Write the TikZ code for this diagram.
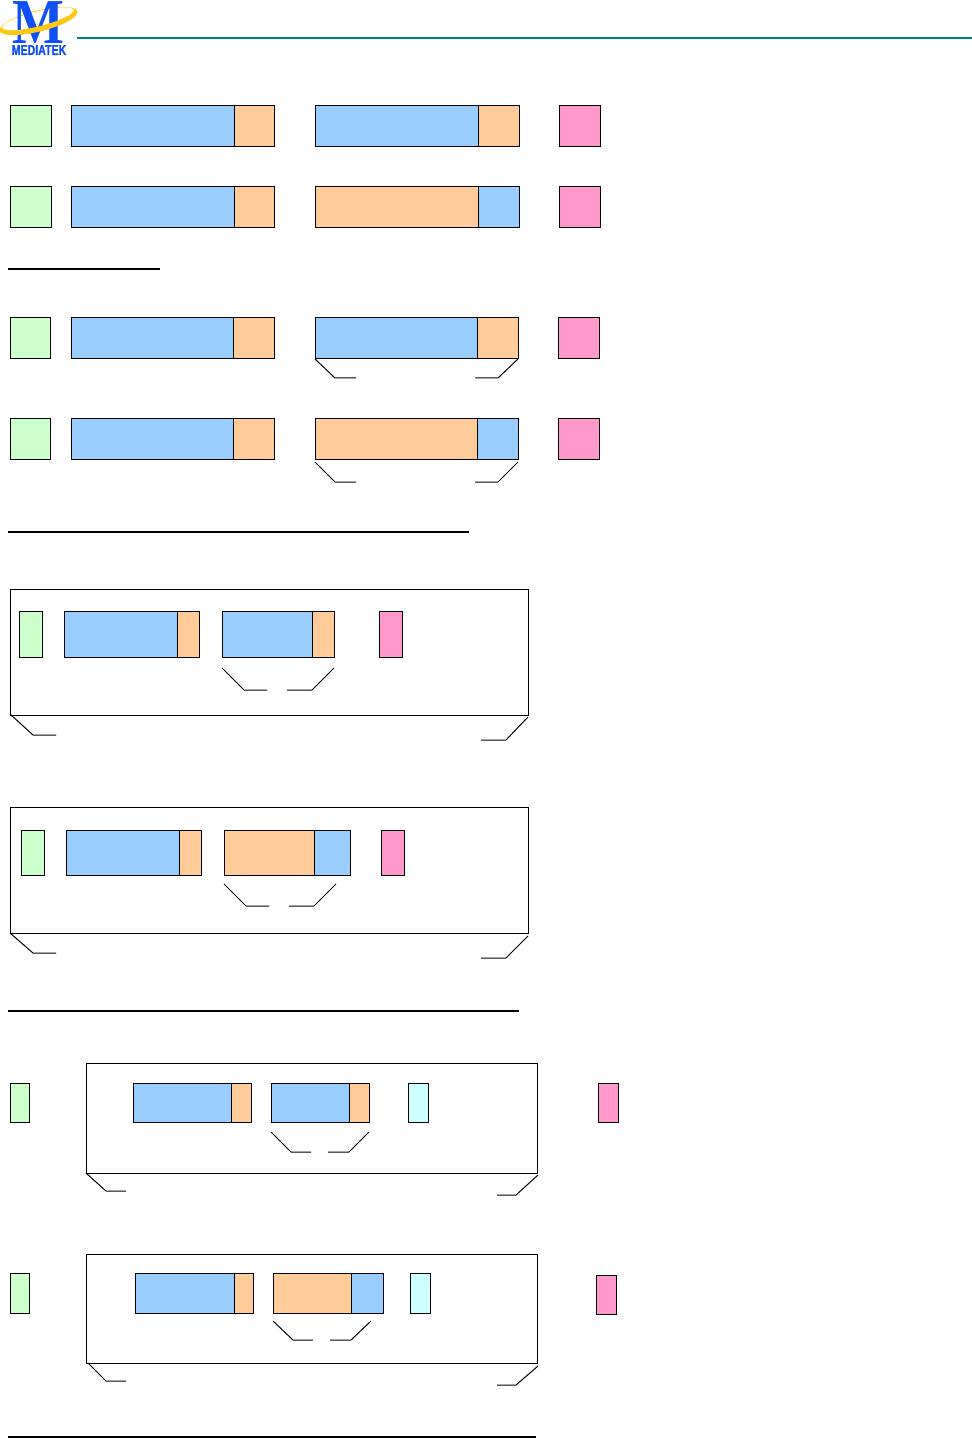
\documentclass[tikz,border=0pt]{standalone}
\usepackage{fontspec}
\setmainfont{Liberation Serif}
\newfontfamily\logosans[FakeBold=1.2]{Liberation Sans Bold}
\definecolor{cgreen}{HTML}{CCFFCC}
\definecolor{cblue}{HTML}{99CCFF}
\definecolor{corange}{HTML}{FFCC99}
\definecolor{cpink}{HTML}{FF99CC}
\definecolor{ccyan}{HTML}{CCFFFF}
\definecolor{cteal}{HTML}{008080}
\definecolor{cgold}{HTML}{FFC814}
\definecolor{clogo}{HTML}{0F50F5}
\tikzset{
  bx/.style={draw=black,line width=0.5pt},
  brk/.style={draw=black,line width=0.5pt},
  rulel/.style={draw=black,line width=0.6pt},
}
% #1 colour, x1, y1, x2, y2
\newcommand{\cell}[5]{\path[bx,fill=#1] (#2,#3) rectangle (#4,#5);}
\newcommand{\goldring}{\fill[cgold,even odd rule] (0,0) ellipse (40 and 10.5) (0,-2.2) ellipse (37 and 7.5);}
\begin{document}
\begin{tikzpicture}[x=0.5pt,y=-0.5pt]
\useasboundingbox (0,0) rectangle (972,1438);
% header
\begin{scope}[shift={(38.5,21)},rotate=14]
\goldring
\end{scope}
\node[text=clogo,font=\bfseries,inner sep=0pt,anchor=base,xscale=2.75,yscale=3.2] (logoM) at (38,44) {M};
\begin{scope}[shift={(38.5,21)},rotate=14]
\clip (-45,0) rectangle (45,14);
\goldring
\end{scope}
\node[text=clogo,font=\logosans,inner sep=0pt,anchor=base,xscale=0.53,yscale=0.72] (logoT) at (39,55) {MEDIATEK};
\draw[cteal,line width=1pt] (77,38.5) -- (972,38.5);
% section 1
\cell{cgreen}{10}{105.5}{51.3}{146.7}
\cell{cblue}{71}{105.5}{234}{146.7}
\cell{corange}{234}{105.5}{274.3}{146.7}
\cell{cblue}{315}{105.5}{478}{146.7}
\cell{corange}{478}{105.5}{519.3}{146.7}
\cell{cpink}{559}{105.5}{600.3}{146.7}
\cell{cgreen}{10}{186.5}{51.3}{227.7}
\cell{cblue}{71}{186.5}{234}{227.7}
\cell{corange}{234}{186.5}{274.3}{227.7}
\cell{corange}{315}{186.5}{478}{227.7}
\cell{cblue}{478}{186.5}{519.3}{227.7}
\cell{cpink}{559}{186.5}{600.3}{227.7}
\draw[rulel] (8,269) -- (160,269);
% section 2
\cell{cgreen}{10}{317.5}{50.3}{358.7}
\cell{cblue}{71}{317.5}{233}{358.7}
\cell{corange}{233}{317.5}{274.3}{358.7}
\cell{cblue}{315}{317.5}{477}{358.7}
\cell{corange}{477}{317.5}{518.3}{358.7}
\cell{cpink}{558}{317.5}{599.3}{358.7}
\draw[brk] (315,359) -- (335,378) -- (356,378);
\draw[brk] (475,378) -- (498,378) -- (518,359);
\cell{cgreen}{10}{418.5}{50.3}{459.7}
\cell{cblue}{71}{418.5}{233}{459.7}
\cell{corange}{233}{418.5}{274.3}{459.7}
\cell{corange}{315}{418.5}{477}{459.7}
\cell{cblue}{477}{418.5}{518.3}{459.7}
\cell{cpink}{558}{418.5}{599.3}{459.7}
\draw[brk] (315,462) -- (335,482) -- (356,482);
\draw[brk] (475,482) -- (498,482) -- (518,462);
\draw[rulel] (8,532) -- (469,532);
% section 3
\cell{white}{10}{589}{528}{715}
\cell{cgreen}{19}{611}{42}{657}
\cell{cblue}{64}{611}{177}{657}
\cell{corange}{177}{611}{199}{657}
\cell{cblue}{222}{611}{312}{657}
\cell{corange}{312}{611}{334}{657}
\cell{cpink}{379.5}{611}{402}{657}
\draw[brk] (222,668) -- (244,690) -- (267,690);
\draw[brk] (287,690) -- (312,690) -- (334,668);
\draw[brk] (10,714) -- (33,735) -- (56,735);
\draw[brk] (481,740) -- (506,740) -- (528,717);
\cell{white}{10}{807}{528}{933}
\cell{cgreen}{21}{830}{44}{875}
\cell{cblue}{66}{830}{179}{875}
\cell{corange}{179}{830}{201}{875}
\cell{corange}{224}{830}{314}{875}
\cell{cblue}{314}{830}{350}{875}
\cell{cpink}{381}{830}{404}{875}
\draw[brk] (224,884) -- (246,906) -- (269,906);
\draw[brk] (289,906) -- (314,906) -- (336,884);
\draw[brk] (10,933) -- (33,953) -- (56,953);
\draw[brk] (481,958) -- (506,958) -- (528,936);
\draw[rulel] (8,1011) -- (519,1011);
% section 4
\cell{cgreen}{10}{1083}{29}{1122}
\cell{white}{86}{1063}{537}{1173}
\cell{cblue}{133}{1083}{231}{1122}
\cell{corange}{231}{1083}{251}{1122}
\cell{cblue}{271}{1083}{349}{1122}
\cell{corange}{349}{1083}{369}{1122}
\cell{ccyan}{408}{1083}{428}{1122}
\cell{cpink}{598}{1083}{618}{1122}
\draw[brk] (271,1132) -- (291,1152) -- (311,1152);
\draw[brk] (328,1152) -- (349,1152) -- (369,1132);
\draw[brk] (86,1173) -- (106,1191) -- (126,1191);
\draw[brk] (497,1195) -- (516,1195) -- (538,1175);
\cell{cgreen}{10}{1273}{29}{1313}
\cell{white}{86}{1254}{537}{1363}
\cell{cblue}{135}{1273.5}{234}{1313}
\cell{corange}{234}{1273.5}{253}{1313}
\cell{corange}{273}{1273.5}{351}{1313}
\cell{cblue}{351}{1273.5}{383}{1313}
\cell{ccyan}{410}{1273.5}{430}{1313}
\cell{cpink}{596}{1275}{616}{1314}
\draw[brk] (273,1321) -- (293,1340) -- (313,1340);
\draw[brk] (330,1340) -- (351,1340) -- (371,1321);
\draw[brk] (88,1363) -- (106,1381) -- (126,1381);
\draw[brk] (497,1385) -- (516,1385) -- (538,1366);
\draw[rulel] (8,1437) -- (536,1437);
\end{tikzpicture}
\end{document}
